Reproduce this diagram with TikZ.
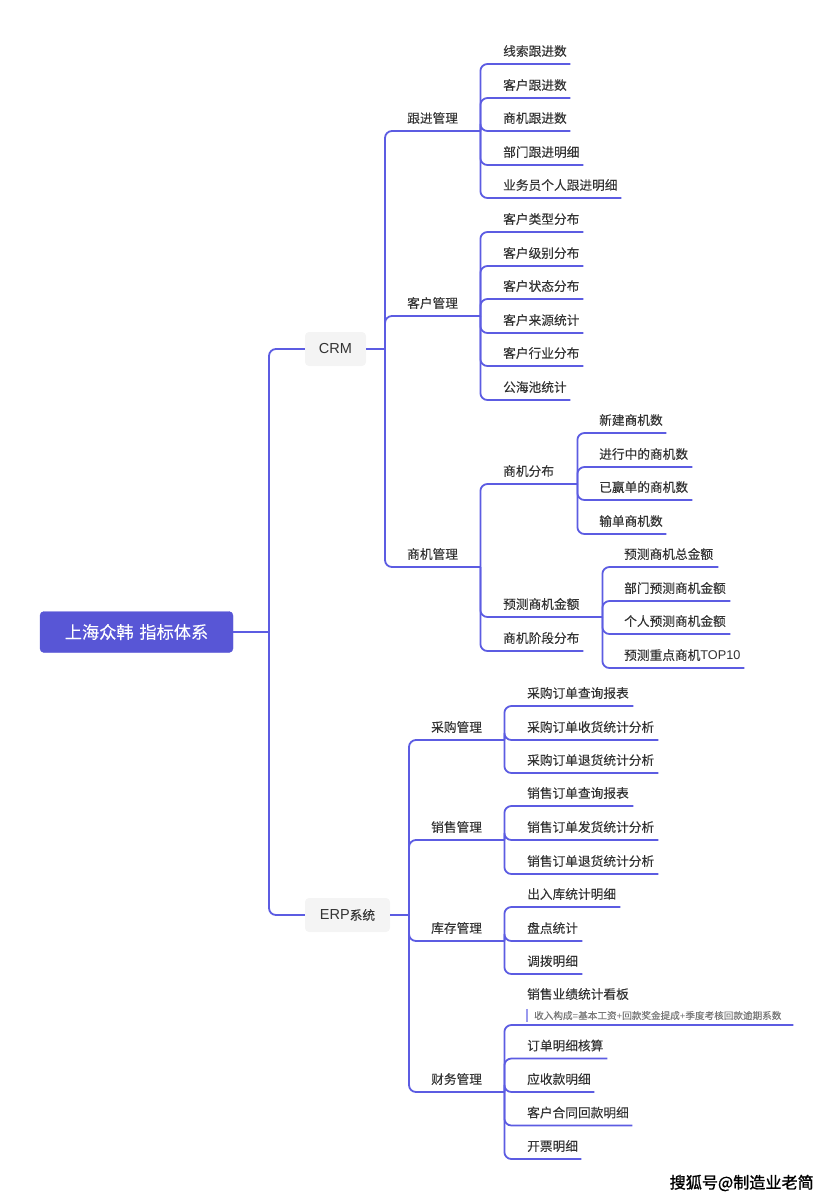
\documentclass[tikz,border=0pt]{standalone}
\usepackage{fontspec}
\setmainfont[FakeBold=0.06]{Noto Sans CJK SC}
\newfontfamily\lat{Liberation Sans}
\newfontfamily\wmfont[FakeBold=1.2]{Noto Sans CJK SC}
\definecolor{linkc}{HTML}{5C5CE2}
\definecolor{rootc}{HTML}{5856D6}
\definecolor{txtc}{HTML}{333333}
\definecolor{boxc}{HTML}{F4F4F4}
\definecolor{notec}{HTML}{777777}
\definecolor{barc}{HTML}{9A9AEE}
\tikzset{
  link/.style={draw=linkc,line width=1.8pt,rounded corners=7pt},
  rootbox/.style={fill=rootc,draw=rootc,rounded corners=4pt,text=white,font=\fontsize{17.2}{18}\selectfont,inner sep=0pt,minimum width=193pt,minimum height=41pt},
  topbox/.style={fill=boxc,rounded corners=4pt,text=txtc,font=\fontsize{12.7}{15}\selectfont,inner sep=0pt,minimum height=34pt},
  itemtext/.style={text=txtc,font=\fontsize{12.7}{15}\selectfont,inner sep=0pt,align=left,minimum height=25.5pt,anchor=south west},
  notetext/.style={text=notec,font=\fontsize{9.6}{11}\selectfont,inner sep=0pt,minimum height=13pt,anchor=west},
  notebar/.style={draw=barc,line width=2pt},
  wmark/.style={text=black,font=\wmfont\fontsize{16.1}{18}\selectfont,inner sep=0pt}
}
% name, parent, text x, underline y, end x, text
\newcommand{\kid}[6]{%
  \pgfmathsetmacro{\kw}{#5-#3}%
  \node[itemtext,text width=\kw pt] (#1) at (#3,#4) {#6};
  \draw[link] (#2.south east) |- (#1.south west) -- (#1.south east);
}
\begin{document}
\begin{tikzpicture}[x=1pt,y=-1pt]
\useasboundingbox (0,0) rectangle (833,1200);
\node[rootbox] (root) at (136.5,632) {上海众韩\hspace{2pt} 指标体系};
\coordinate (sroot) at (269,632);
\draw[link] (root.east) -- (sroot);
\node[topbox,minimum width=61pt] (crm) at (335.5,349) {{\lat\fontsize{14.5}{15}\selectfont CRM}};
\node[topbox,minimum width=85pt] (erp) at (347.5,915) {{\lat\fontsize{14.5}{15}\selectfont ERP}系统};
\draw[link] (sroot) |- (crm.west);
\draw[link] (sroot) |- (erp.west);
\coordinate (scrm) at (385,349);
\coordinate (serp) at (409,915);
\draw[link] (crm.east) -- (scrm);
\draw[link] (erp.east) -- (serp);
% CRM
\node[itemtext,text width=73pt] (gj) at (407,131) {跟进管理};
\draw[link] (scrm) |- (gj.south west) -- (gj.south east);
\node[itemtext,text width=73pt] (kh) at (407,316) {客户管理};
\draw[link] (scrm) |- (kh.south west) -- (kh.south east);
\node[itemtext,text width=73pt] (sj) at (407,567) {商机管理};
\draw[link] (scrm) |- (sj.south west) -- (sj.south east);
\kid{g1}{gj}{503}{64}{570}{线索跟进数}
\kid{g2}{gj}{503}{98}{570}{客户跟进数}
\kid{g3}{gj}{503}{131}{570}{商机跟进数}
\kid{g4}{gj}{503}{165}{583}{部门跟进明细}
\kid{g5}{gj}{503}{198}{621}{业务员个人跟进明细}
\kid{k1}{kh}{503}{232}{583}{客户类型分布}
\kid{k2}{kh}{503}{266}{583}{客户级别分布}
\kid{k3}{kh}{503}{299}{583}{客户状态分布}
\kid{k4}{kh}{503}{333}{583}{客户来源统计}
\kid{k5}{kh}{503}{366}{583}{客户行业分布}
\kid{k6}{kh}{503}{400}{570}{公海池统计}
\kid{s1}{sj}{503}{484}{577}{商机分布}
\kid{s2}{sj}{503}{617}{602}{预测商机金额}
\kid{s3}{sj}{503}{651}{583}{商机阶段分布}
\kid{s11}{s1}{599}{433}{666}{新建商机数}
\kid{s12}{s1}{599}{467}{692}{进行中的商机数}
\kid{s13}{s1}{599}{500}{692}{已赢单的商机数}
\kid{s14}{s1}{599}{534}{666}{输单商机数}
\kid{s21}{s2}{624}{567}{718}{预测商机总金额}
\kid{s22}{s2}{624}{601}{730}{部门预测商机金额}
\kid{s23}{s2}{624}{634}{730}{个人预测商机金额}
\kid{s24}{s2}{624}{668}{744}{预测重点商机{\lat TOP10}}
% ERP
\node[itemtext,text width=73pt] (cg) at (431,740) {采购管理};
\draw[link] (serp) |- (cg.south west) -- (cg.south east);
\node[itemtext,text width=73pt] (xs) at (431,840) {销售管理};
\draw[link] (serp) |- (xs.south west) -- (xs.south east);
\node[itemtext,text width=73pt] (kc) at (431,941) {库存管理};
\draw[link] (serp) |- (kc.south west) -- (kc.south east);
\node[itemtext,text width=73pt] (cw) at (431,1092) {财务管理};
\draw[link] (serp) |- (cw.south west) -- (cw.south east);
\kid{c1}{cg}{527}{706}{633}{采购订单查询报表}
\kid{c2}{cg}{527}{740}{658}{采购订单收货统计分析}
\kid{c3}{cg}{527}{773}{658}{采购订单退货统计分析}
\kid{x1}{xs}{527}{806}{633}{销售订单查询报表}
\kid{x2}{xs}{527}{840}{658}{销售订单发货统计分析}
\kid{x3}{xs}{527}{874}{658}{销售订单退货统计分析}
\kid{i1}{kc}{527}{907}{620}{出入库统计明细}
\kid{i2}{kc}{527}{941}{582}{盘点统计}
\kid{i3}{kc}{527}{974}{582}{调拨明细}
% first finance child: title sits above its note, underline below the note
\node[itemtext,text width=266pt,minimum height=13pt] (w1) at (527,1025) {};
\draw[link] (cw.south east) |- (w1.south west) -- (w1.south east);
\node[text=txtc,font=\fontsize{12.7}{15}\selectfont,inner sep=0pt,anchor=west] (w1t) at (527,994) {销售业绩统计看板};
\node[notetext] (w1n) at (534,1015.5) {收入构成{\lat=}基本工资{\lat+}回款奖金提成{\lat+}季度考核回款逾期系数};
\draw[notebar] ([xshift=-7.5pt]w1n.north west) -- ([xshift=-7.5pt]w1n.south west);
\kid{w2}{cw}{527}{1058.5}{607}{订单明细核算}
\kid{w3}{cw}{527}{1092}{594}{应收款明细}
\kid{w4}{cw}{527}{1125.5}{632}{客户合同回款明细}
\kid{w5}{cw}{527}{1159}{581}{开票明细}
\node[wmark,anchor=west] (wm) at (669.5,1183) {搜狐号@制造业老简};
\end{tikzpicture}
\end{document}
